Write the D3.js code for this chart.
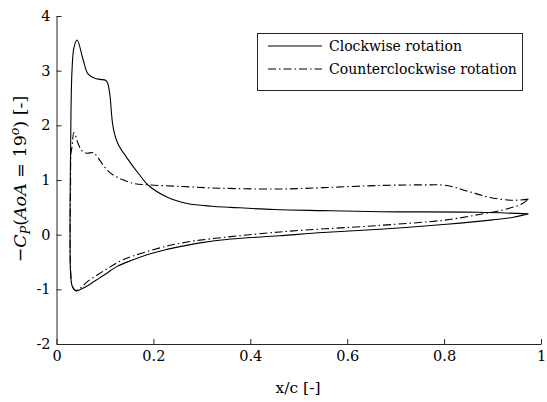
<!DOCTYPE html>
<html><head><meta charset="utf-8">
<script src="https://cdn.jsdelivr.net/npm/d3@7"></script>
<style>body{margin:0;background:#fff}svg{display:block}text{font-family:"DejaVu Serif",serif;fill:#000}</style>
</head><body><svg id="c" width="547" height="402"></svg>
<script>
const xTicks = [0, 0.2, 0.4, 0.6, 0.8, 1];
const yTicks = [-2, -1, 0, 1, 2, 3, 4];
const seriesNames = ["Clockwise rotation", "Counterclockwise rotation"];
// Clockwise: upper surface TE -> LE, then lower surface LE -> TE
const cwUpper = [[0.974,0.38],[0.87,0.41],[0.67,0.42],[0.55,0.44],[0.45,0.46],[0.36,0.50],[0.32,0.52],[0.27,0.57],[0.23,0.68],[0.19,0.90],[0.17,1.11],[0.145,1.41],[0.127,1.66],[0.117,1.96],[0.110,2.57],[0.106,2.76],[0.102,2.82],[0.09,2.84],[0.079,2.86],[0.065,2.94],[0.055,3.2],[0.0425,3.56],[0.036,3.42],[0.032,3.0],[0.030,2.3],[0.029,1.5],[0.028,0.5]];
const cwLower = [[0.028,-0.3],[0.029,-0.7],[0.032,-0.93],[0.036,-1.0],[0.041,-1.03],[0.05,-1.0],[0.065,-0.93],[0.089,-0.79],[0.10,-0.73],[0.125,-0.58],[0.158,-0.46],[0.19,-0.36],[0.227,-0.27],[0.26,-0.21],[0.296,-0.15],[0.36,-0.08],[0.46,-0.02],[0.55,0.04],[0.668,0.10],[0.805,0.19],[0.9,0.27],[0.943,0.32],[0.974,0.38]];
// Counterclockwise
const ccwUpper = [[0.974,0.65],[0.943,0.63],[0.895,0.68],[0.847,0.80],[0.805,0.90],[0.757,0.91],[0.668,0.90],[0.55,0.86],[0.461,0.835],[0.337,0.85],[0.261,0.88],[0.193,0.91],[0.158,0.94],[0.117,1.09],[0.10,1.23],[0.083,1.44],[0.076,1.50],[0.062,1.49],[0.052,1.54],[0.045,1.66],[0.036,1.87],[0.032,1.6],[0.030,1.5],[0.029,0.9]];
const ccwLower = [[0.029,-0.6],[0.033,-0.95],[0.04,-1.02],[0.05,-0.97],[0.065,-0.85],[0.10,-0.65],[0.13,-0.49],[0.158,-0.39],[0.227,-0.21],[0.26,-0.15],[0.296,-0.10],[0.461,0.05],[0.668,0.17],[0.805,0.27],[0.873,0.37],[0.916,0.44],[0.96,0.56],[0.974,0.65]];

const svg = d3.select("#c");
const x = d3.scaleLinear().domain([0,1]).range([56.5,541]);
const y = d3.scaleLinear().domain([-2,4]).range([344,16]);
const axCol = "#262626";

const gx = svg.append("g").attr("transform","translate(0,344)")
  .call(d3.axisBottom(x).tickValues(xTicks).tickSizeInner(-5).tickSizeOuter(0).tickPadding(7).tickFormat(d=>String(d)));
const gy = svg.append("g").attr("transform","translate(56.5,0)")
  .call(d3.axisLeft(y).tickValues(yTicks).tickSizeInner(-5).tickSizeOuter(0).tickPadding(6).tickFormat(d=>String(d)));
[gx,gy].forEach(g=>{
  g.selectAll("path,line").attr("stroke",axCol).attr("stroke-width",1);
  g.selectAll("text").attr("font-size",14.5).attr("font-family","DejaVu Serif").attr("fill","#000");
});

const line = d3.line().x(d=>x(d[0])).y(d=>y(d[1])).curve(d3.curveCatmullRom.alpha(0.5));
svg.append("path").attr("d", line(cwUpper.concat(cwLower))).attr("fill","none").attr("stroke","#000").attr("stroke-width",1.1);
svg.append("path").attr("d", line(ccwUpper.concat(ccwLower))).attr("fill","none").attr("stroke","#000").attr("stroke-width",1.1).attr("stroke-dasharray","8,3,1.5,3");

// legend
const lg = svg.append("g");
lg.append("rect").attr("x",257.5).attr("y",33.5).attr("width",265).attr("height",57).attr("fill","#fff").attr("stroke","#262626").attr("stroke-width",1);
const dashes = [null, "8,3,1.5,3"];
seriesNames.forEach((n,i)=>{
  const yy = 46 + i*23;
  lg.append("line").attr("x1",268).attr("x2",322).attr("y1",yy).attr("y2",yy).attr("stroke","#000").attr("stroke-width",1.1).attr("stroke-dasharray",dashes[i]);
  lg.append("text").attr("x",329).attr("y",yy).attr("dy","0.35em").attr("font-size",14).text(n);
});

// axis labels
svg.append("text").attr("x",298).attr("y",393).attr("text-anchor","middle").attr("font-size",15.5).text("x/c [-]");
const yl = svg.append("text").attr("transform","translate(26,179) rotate(-90)").attr("text-anchor","middle").attr("font-size",17.5);
yl.append("tspan").text("\u2212");
yl.append("tspan").attr("font-style","italic").text("C");
yl.append("tspan").attr("font-style","italic").attr("font-size",12.5).attr("dy",4).text("P");
yl.append("tspan").attr("dy",-4).text("(");
yl.append("tspan").attr("font-style","italic").text("AoA");
yl.append("tspan").text(" = 19");
yl.append("tspan").attr("font-style","italic").attr("font-size",12.5).attr("dy",-7).text("o");
yl.append("tspan").attr("dy",7).text(") [-]");
</script></body></html>
